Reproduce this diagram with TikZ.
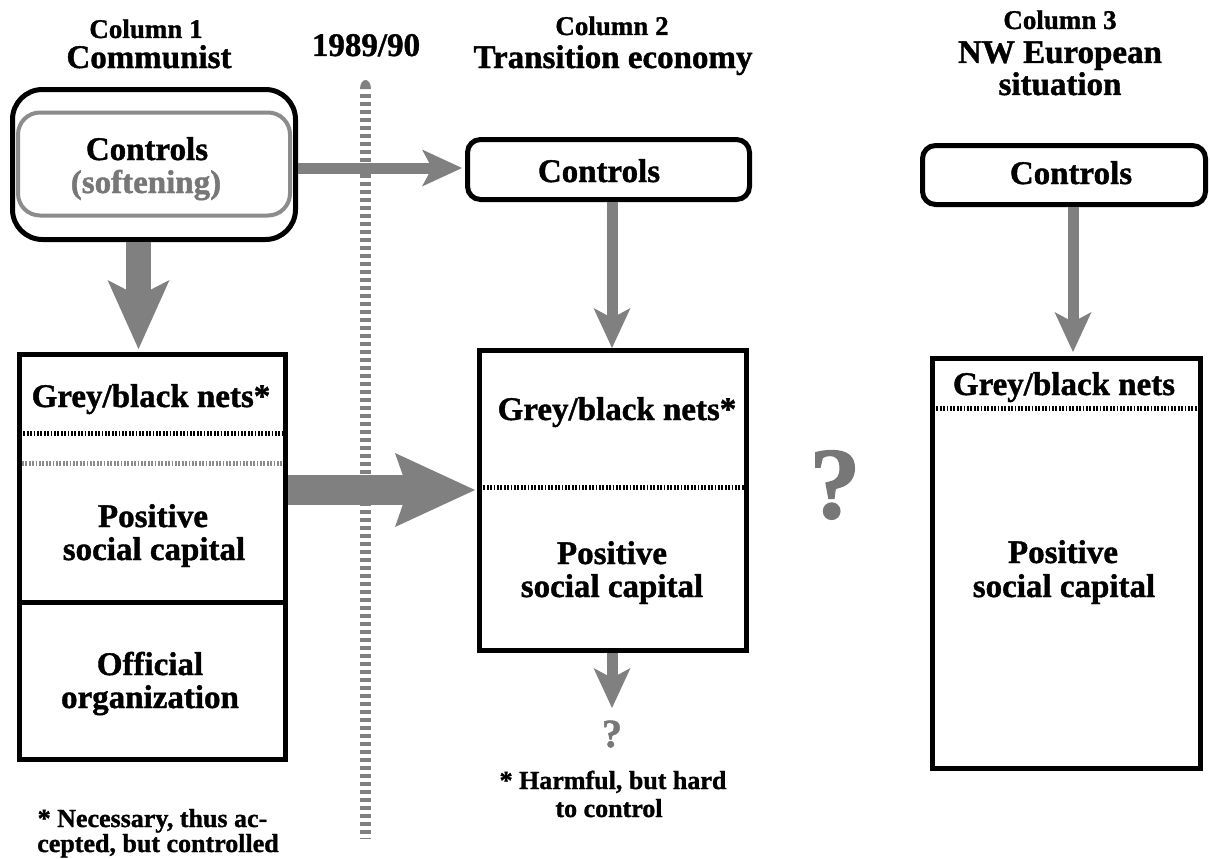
\documentclass[tikz,border=0pt]{standalone}
\usepackage{fontspec}
\setmainfont{Liberation Serif}[BoldFeatures={FakeBold=1.2}]
\usetikzlibrary{arrows.meta,calc}
\definecolor{arrowgrey}{HTML}{808080}
\definecolor{softgrey}{HTML}{8C8C8C}
\definecolor{qgrey}{HTML}{777777}
\begin{document}
\begin{tikzpicture}[x=1pt,y=-1pt,
  txt/.style={anchor=base, inner sep=0pt, font=\fontsize{33}{33}\selectfont\bfseries},
  hdr/.style={anchor=base, inner sep=0pt, font=\fontsize{27}{27}\selectfont\bfseries},
  note/.style={anchor=base, inner sep=0pt, font=\fontsize{26}{26}\selectfont\bfseries},
  ctrlbox/.style={draw=black, line width=5pt, rounded corners=13pt, inner sep=0pt, fill=white},
  netbox/.style={draw=black, line width=5pt, inner sep=0pt, fill=white},
  sepline/.style={line width=5pt, dash pattern=on 1.7pt off 1.7pt},
  thinarrow/.style={draw=arrowgrey, line width=11pt, -{Stealth[length=40pt,width=37pt,inset=10pt,line width=0pt]}},
  fatdown/.style={draw=arrowgrey, line width=25pt, -{Stealth[length=69pt,width=62pt,inset=16pt,line width=0pt]}},
  fatright/.style={draw=arrowgrey, line width=30pt, -{Stealth[length=80pt,width=74pt,inset=13pt,line width=0pt]}}
]
\useasboundingbox (0,0) rectangle (1210,859);
\fill[white] (0,0) rectangle (1210,859);

% time line 1989/90
\coordinate (tltop) at (365.5,89);
\coordinate (tlstart) at (365.5,94);
\coordinate (tlend) at (365.5,839);
\fill[arrowgrey] (371,89) arc[start angle=0,end angle=-180,x radius=5.5,y radius=9] -- cycle;
\draw[arrowgrey, line width=11pt, dash pattern=on 4pt off 4pt] (tlstart) -- (tlend);

% headers
\node[hdr] (h1a) at (146,38) {Column 1};
\node[txt] (h1b) at (149,68) {Communist};
\node[txt] (hyr) at (366,56) {1989/90};
\node[hdr] (h2a) at (612,35) {Column 2};
\node[txt] (h2b) at (613,68) {Transition economy};
\node[hdr] (h3a) at (1060,29) {Column 3};
\node[txt] (h3b) at (1060,63) {NW European};
\node[txt] (h3c) at (1060,95) {situation};

% boxes
\node[ctrlbox, rounded corners=30pt, minimum width=283pt, minimum height=150pt] (c1ctrl) at (154,164.5) {};
\node[draw=softgrey, line width=4pt, rounded corners=22pt, inner sep=0pt, minimum width=272pt, minimum height=103pt] (c1inner) at (154,164) {};
\node[ctrlbox, minimum width=282pt, minimum height=60pt] (c2ctrl) at (608.5,169.5) {};
\node[ctrlbox, minimum width=283pt, minimum height=59pt] (c3ctrl) at (1064,175) {};
\node[netbox, minimum width=266pt, minimum height=405pt] (c1box) at (152.5,557) {};
\node[netbox, minimum width=267pt, minimum height=300pt] (c2box) at (613,500.5) {};
\node[netbox, minimum width=268pt, minimum height=410pt] (c3box) at (1066.5,563.5) {};

% separators
\draw[sepline, black] ([xshift=3pt]c1box.west |- 0,433) -- ([xshift=-3pt]c1box.east |- 0,433);
\draw[sepline, softgrey] ([xshift=5pt]c1box.west |- 0,463) -- ([xshift=-5pt]c1box.east |- 0,463);
\draw[line width=5pt, black] (c1box.west |- 0,602) -- (c1box.east |- 0,602);
\draw[sepline, black] ([xshift=3pt]c2box.west |- 0,487) -- ([xshift=-3pt]c2box.east |- 0,487);
\draw[sepline, black] ([xshift=3pt]c3box.west |- 0,408) -- ([xshift=-3pt]c3box.east |- 0,408);

% texts in boxes
\node[txt] (t1ctrl) at (147,160) {Controls};
\node[txt, text=qgrey] (t1soft) at (146,193) {(softening)};
\node[txt] (t2ctrl) at (599,182) {Controls};
\node[txt] (t3ctrl) at (1071,184) {Controls};

\node[txt] (t1nets) at (151,407) {Grey/black nets*};
\node[txt] (t1pos) at (153,527) {Positive};
\node[txt] (t1soc) at (154,560) {social capital};
\node[txt] (t1off) at (150,675) {Official};
\node[txt] (t1org) at (150,708) {organization};

\node[txt] (t2nets) at (617,420) {Grey/black nets*};
\node[txt] (t2pos) at (612,564) {Positive};
\node[txt] (t2soc) at (612,597) {social capital};

\node[txt] (t3nets) at (1064,395) {Grey/black nets};
\node[txt] (t3pos) at (1063,563) {Positive};
\node[txt] (t3soc) at (1064,597) {social capital};

% footnotes
\node[note] (f1a) at (152.5,827) {* Necessary, thus ac-};
\node[note] (f1b) at (158,852) {cepted, but controlled};
\node[note] (f2a) at (613,789) {* Harmful, but hard};
\node[note] (f2b) at (609,817) {to control};

% question marks
\node[anchor=base, inner sep=0pt, text=qgrey, font=\fontsize{40}{40}\selectfont\bfseries] (q2) at (612,747) {?};
\node[anchor=base, inner sep=0pt, text=qgrey, font=\fontsize{102}{102}\selectfont\bfseries] (qbig) at (835,518) {?};

% arrows
\draw[fatdown, shorten >=3pt] ([xshift=-15.5pt]c1ctrl.south) -- ([xshift=-14pt]c1box.north);
\coordinate (a1s) at ([yshift=-3.5pt]c1ctrl.east);
\draw[thinarrow, shorten >=3pt] (a1s) -- (a1s -| c2ctrl.west);
\coordinate (a2s) at ([yshift=67pt]c1box.east);
\draw[fatright, shorten >=2pt] (a2s) -- (a2s -| c2box.west);
\draw[thinarrow] ([xshift=-1pt]c2box.north |- c2ctrl.south) -- ([xshift=-1pt]c2box.north);
\coordinate (a3s) at ([xshift=9pt]c3ctrl.south);
\draw[thinarrow, shorten >=4pt] (a3s) -- (a3s |- c3box.north);
\coordinate (q2tip) at (612,708);
\draw[thinarrow] (c2box.south -| q2tip) -- (q2tip);
\end{tikzpicture}
\end{document}
